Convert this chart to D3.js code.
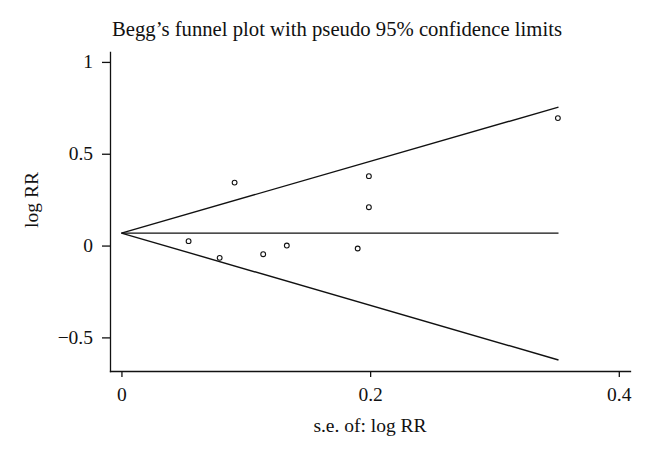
<!DOCTYPE html>
<html>
<head>
<meta charset="utf-8">
<script src="https://cdn.jsdelivr.net/npm/d3@7"></script>
<style>
  body { margin: 0; background: #fff; }
  svg { display: block; }
  text { font-family: "Liberation Serif", "DejaVu Serif", serif; fill: #111; }
  .axis path, .axis line { stroke: #111; stroke-width: 1.3; }
  .axis text { font-size: 19.5px; }
</style>
</head>
<body>
<script>
//study points
var seValues = [0.054, 0.079, 0.091, 0.114, 0.133, 0.190, 0.199, 0.199, 0.351];
var logRR = [0.024, -0.067, 0.343, -0.047, 0.000, -0.016, 0.378, 0.209, 0.694];

//pooled estimate and pseudo 95% limits (end points of the funnel lines)
var funnelSe = [0, 0.3515];
var pooledLine = [0.068, 0.068];
var upperLimit = [0.068, 0.754];
var lowerLimit = [0.068, -0.623];

//tick labels
var xTicks = [0, 0.2, 0.4];
var yTicks = [-0.5, 0, 0.5, 1];

var width = 649,
    height = 449;

var svg = d3.select("body")
    .append("svg")
    .attr("width", width)
    .attr("height", height);

var x = d3.scaleLinear()
    .domain([-0.0092, 0.409])
    .range([110, 630]);

var y = d3.scaleLinear()
    .domain([-0.683, 1.054])
    .range([371, 52]);

var fmt = d3.format("~g");

//y axis
var yAxis = svg.append("g")
    .attr("class", "axis")
    .attr("transform", "translate(110,0)")
    .call(d3.axisLeft(y).tickValues(yTicks).tickFormat(fmt).tickSize(8).tickSizeOuter(0).tickPadding(9));
yAxis.selectAll("text").attr("dy", "0.3em");

//x axis
var xAxis = svg.append("g")
    .attr("class", "axis")
    .attr("transform", "translate(0,371)")
    .call(d3.axisBottom(x).tickValues(xTicks).tickFormat(fmt).tickSize(6).tickSizeOuter(0).tickPadding(10));
svg.selectAll(".axis .domain").attr("stroke-linecap", "square");

//funnel lines
var line = d3.line()
    .x(function(d){ return x(d[0]); })
    .y(function(d){ return y(d[1]); });

[pooledLine, upperLimit, lowerLimit].forEach(function(vals){
    svg.append("path")
        .datum(funnelSe.map(function(s, i){ return [s, vals[i]]; }))
        .attr("d", line)
        .attr("fill", "none")
        .attr("stroke", "#111")
        .attr("stroke-width", 1.4);
});

//study points
svg.selectAll(".pt")
    .data(seValues)
    .enter()
    .append("circle")
    .attr("class", "pt")
    .attr("cx", function(d){ return x(d); })
    .attr("cy", function(d, i){ return y(logRR[i]); })
    .attr("r", 2.4)
    .attr("fill", "#fff")
    .attr("stroke", "#111")
    .attr("stroke-width", 1.1);

//title and axis labels
svg.append("text")
    .attr("x", 337)
    .attr("y", 36)
    .attr("text-anchor", "middle")
    .style("font-size", "20.7px")
    .text("Begg\u2019s funnel plot with pseudo 95% confidence limits");

svg.append("text")
    .attr("x", 370)
    .attr("y", 432)
    .attr("text-anchor", "middle")
    .style("font-size", "19.5px")
    .text("s.e. of: log RR");

svg.append("text")
    .attr("transform", "translate(38,200) rotate(-90)")
    .attr("text-anchor", "middle")
    .style("font-size", "19.5px")
    .text("log RR");
</script>
</body>
</html>
